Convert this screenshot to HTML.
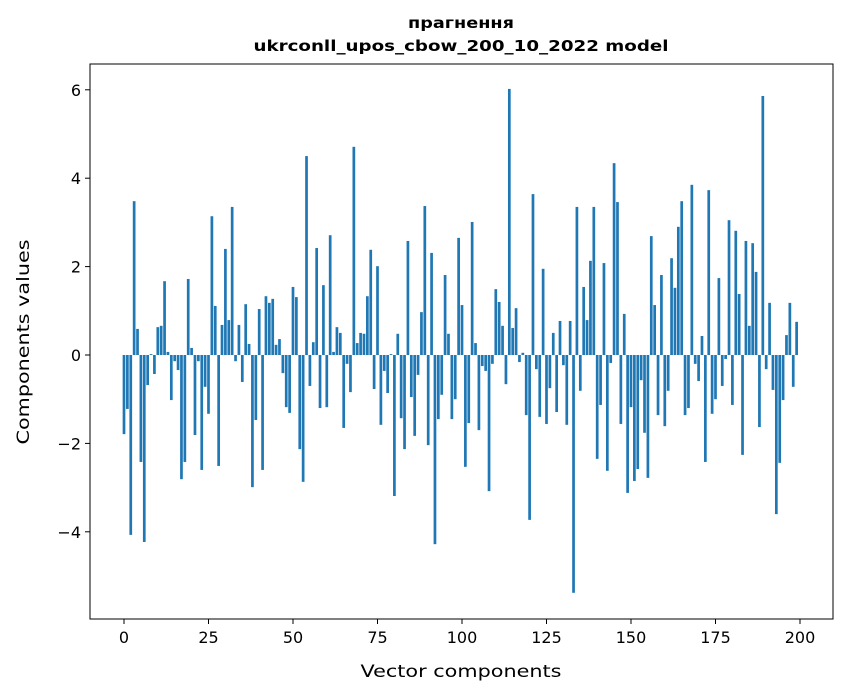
<!DOCTYPE html>
<html><head><meta charset="utf-8"><style>
body{margin:0;background:#fff;}
svg{display:block;font-family:"DejaVu Sans","Liberation Sans",sans-serif;}
</style></head><body>
<svg id="chart" width="847" height="696" viewBox="0 0 847 696" xmlns="http://www.w3.org/2000/svg">
<rect width="847" height="696" fill="#fff"/>
<text x="461" y="28" text-anchor="middle" font-size="15" font-weight="bold" textLength="106" lengthAdjust="spacingAndGlyphs">прагнення</text>
<text x="461" y="51" text-anchor="middle" font-size="15" font-weight="bold" textLength="415" lengthAdjust="spacingAndGlyphs">ukrconll_upos_cbow_200_10_2022 model</text>
<g id="bars"></g>
<rect x="90" y="64" width="743" height="555" fill="none" stroke="#000" stroke-width="1"/>
<g id="xticks"></g>
<g id="yticks"></g>
<text x="461" y="677" text-anchor="middle" font-size="17" textLength="201" lengthAdjust="spacingAndGlyphs">Vector components</text>
<text transform="translate(29,342) rotate(-90)" text-anchor="middle" font-size="17" textLength="205" lengthAdjust="spacingAndGlyphs">Components values</text>
</svg>
<script>
const values = [-1.79,-1.22,-4.07,3.48,0.59,-2.42,-4.23,-0.68,0.02,-0.43,
0.63,0.66,1.67,0.07,-1.02,-0.14,-0.34,-2.81,-2.42,1.72,
0.16,-1.81,-0.14,-2.6,-0.72,-1.33,3.14,1.11,-2.51,0.68,
2.40,0.79,3.35,-0.14,0.68,-0.61,1.15,0.25,-2.99,-1.47,
1.04,-2.6,1.33,1.18,1.27,0.23,0.36,-0.41,-1.18,-1.31,
1.54,1.31,-2.13,-2.87,4.50,-0.70,0.29,2.42,-1.20,1.58,
-1.18,2.71,0.07,0.63,0.50,-1.65,-0.20,-0.84,4.71,0.27,
0.50,0.48,1.33,2.38,-0.77,2.01,-1.58,-0.36,-0.86,0.02,
-3.19,0.48,-1.43,-2.13,2.58,-0.95,-1.83,-0.45,0.97,3.37,
-2.04,2.31,-4.28,-1.45,-0.90,1.81,0.48,-1.45,-1.0,2.65,
1.13,-2.53,-1.54,3.01,0.27,-1.70,-0.25,-0.36,-3.08,-0.20,
1.49,1.20,0.66,-0.66,6.02,0.61,1.06,-0.16,0.05,-1.36,
-3.73,3.64,-0.32,-1.40,1.95,-1.56,-0.75,0.50,-1.29,0.77,
-0.23,-1.58,0.77,-5.38,3.35,-0.81,1.54,0.79,2.13,3.35,
-2.35,-1.13,2.08,-2.62,-0.18,4.34,3.46,-1.56,0.93,-3.12,
-1.18,-2.85,-2.58,-0.57,-1.76,-2.78,2.69,1.13,-1.36,1.81,
-1.61,-0.81,2.19,1.52,2.90,3.48,-1.36,-1.20,3.85,-0.20,
-0.59,0.43,-2.42,3.73,-1.33,-1.0,1.74,-0.70,-0.09,3.05,
-1.13,2.81,1.38,-2.26,2.58,0.66,2.53,1.88,-1.63,5.86,
-0.32,1.18,-0.79,-3.60,-2.44,-1.02,0.45,1.18,-0.72,0.75];
const xTickLabels = [0,25,50,75,100,125,150,175,200];
const yTickLabels = [-4,-2,0,2,4,6];

const NS = "http://www.w3.org/2000/svg";
function xScale(v){ return 124 + 3.38 * v; }
function yScale(v){ return 355 - 44.2 * v; }

const barsG = document.getElementById('bars');
values.forEach((v, i) => {
  const r = document.createElementNS(NS, 'rect');
  const x0 = xScale(i - 0.4), x1 = xScale(i + 0.4);
  const y0 = yScale(Math.max(v, 0)), y1 = yScale(Math.min(v, 0));
  r.setAttribute('x', x0);
  r.setAttribute('y', y0);
  r.setAttribute('width', x1 - x0);
  r.setAttribute('height', Math.max(y1 - y0, 0.3));
  r.setAttribute('fill', '#1f77b4');
  
  
  barsG.appendChild(r);
});

const xg = document.getElementById('xticks');
xTickLabels.forEach(t => {
  const x = xScale(t);
  const l = document.createElementNS(NS, 'line');
  l.setAttribute('x1', x); l.setAttribute('x2', x);
  l.setAttribute('y1', 619); l.setAttribute('y2', 624);
  l.setAttribute('stroke', '#000');
  
  
  xg.appendChild(l);
  const tx = document.createElementNS(NS, 'text');
  tx.setAttribute('x', x); tx.setAttribute('y', 643);
  tx.setAttribute('text-anchor', 'middle');
  tx.setAttribute('font-size', '16');
  tx.textContent = t;
  
  
  xg.appendChild(tx);
});

const yg = document.getElementById('yticks');
yTickLabels.forEach(t => {
  const y = yScale(t);
  const l = document.createElementNS(NS, 'line');
  l.setAttribute('x1', 85); l.setAttribute('x2', 90);
  l.setAttribute('y1', y); l.setAttribute('y2', y);
  l.setAttribute('stroke', '#000');
  
  
  yg.appendChild(l);
  const tx = document.createElementNS(NS, 'text');
  tx.setAttribute('x', 81); tx.setAttribute('y', y + 6);
  tx.setAttribute('text-anchor', 'end');
  tx.setAttribute('font-size', '16');
  tx.textContent = t < 0 ? '\u2212' + Math.abs(t) : String(t);
  
  
  yg.appendChild(tx);
});
</script>
</body></html>
